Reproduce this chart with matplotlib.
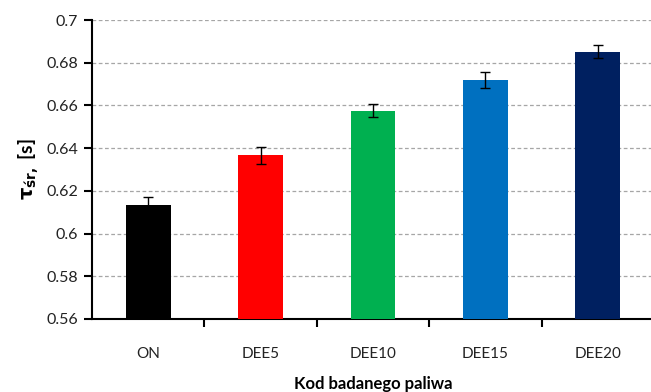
import matplotlib.pyplot as plt
import numpy as np

paliwa = ["ON", "DEE5", "DEE10", "DEE15", "DEE20"]
tau = [0.6132, 0.6366, 0.6575, 0.6720, 0.6852]
blad = [0.0037, 0.0039, 0.0031, 0.0037, 0.0031]
kolory = ["#000000", "#FF0000", "#00B050", "#0070C0", "#002060"]

plt.rcParams['font.family'] = ['Lato', 'DejaVu Sans']

fig = plt.figure(figsize=(6.51, 3.92), dpi=100)
ax = fig.add_axes([92 / 651, 1 - 319 / 392, 562 / 651, 299 / 392])

x = np.arange(len(paliwa))
ax.bar(x, tau, width=0.4, color=kolory, zorder=3)
ax.errorbar(x, tau, yerr=blad, fmt='none', ecolor='black', elinewidth=1,
            capsize=3.5, capthick=1, zorder=4)

ax.set_xlim(-0.5, len(paliwa) - 0.5)
ax.set_ylim(0.56, 0.7)
ax.set_yticks(np.arange(0.56, 0.7001, 0.02))
ax.set_yticklabels([f"{v:g}" for v in np.round(np.arange(0.56, 0.7001, 0.02), 2)])
ax.yaxis.grid(True, linestyle=(0, (3, 2)), color='#a6a6a6', linewidth=0.9, zorder=0)

# etykiety kategorii i kreski na granicach
ax.set_xticks(x)
ax.set_xticklabels(paliwa)
ax.tick_params(axis='x', which='major', length=0, pad=20, labelsize=11, labelcolor='#222222')
ax.set_xticks(np.arange(0.5, len(paliwa) - 0.5), minor=True)
ax.tick_params(axis='x', which='minor', length=6, width=1.5, direction='out')
ax.tick_params(axis='y', length=6, width=1.5, direction='out', labelsize=11.5,
               labelcolor='#222222', pad=4)

for s in ['top', 'right']:
    ax.spines[s].set_visible(False)
for s in ['left', 'bottom']:
    ax.spines[s].set_linewidth(1.5)

ax.set_xlabel("Kod badanego paliwa", fontsize=12, fontweight='bold', labelpad=11)
ax.set_ylabel(r"$\mathbf{\tau}_{\mathbf{śr,}}$ [s]", fontsize=14, fontweight='bold', labelpad=4)

fig.savefig("out.png", dpi=100)
